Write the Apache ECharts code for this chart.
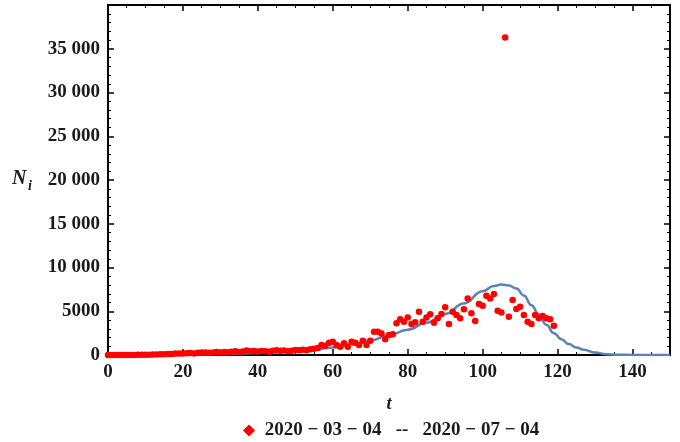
<!DOCTYPE html>
<html>
<head>
<meta charset="utf-8">
<script src="https://cdn.jsdelivr.net/npm/echarts@6/dist/echarts.min.js"></script>
<style>
html,body{margin:0;padding:0;background:#fff;}
#c{width:680px;height:442px;}
</style>
</head>
<body>
<div id="c"></div>
<script>
// Observed daily new cases (t = day index)
var days = [];
for (var d = 0; d <= 119; d++) days.push(d);
var cases = [
  1, 2, 3, 4, 6, 10, 8, 12, 20, 15,
  24, 30, 46, 60, 74, 80, 120, 105, 160, 175,
  180, 210, 220, 170, 250, 300, 290, 260, 300, 340,
  300, 350, 310, 380, 430, 330, 410, 520, 430, 470,
  400, 460, 420, 360, 480, 530, 500, 520, 440, 480,
  560, 530, 590, 540, 650, 720, 800, 1140, 1050, 1400,
  1520, 1140, 950, 1330, 950, 1520, 1400, 1140, 1630, 1140,
  1630, 2660, 2660, 2470, 1790, 2280, 2360, 3620, 4080, 3800,
  4300, 3540, 3730, 4950, 3800, 4300, 4650, 3690, 4190, 4700,
  5450, 3540, 4950, 4570, 4190, 5220, 6470, 4760, 3880, 5820,
  5630, 6770, 6470, 6970, 5060, 4870, 36280, 4370, 6280, 5250,
  5520, 4570, 3800, 3540, 4570, 4190, 4450, 4190, 4080, 3350
];
// Fitted model curve
var curveT = [0, 5, 10, 15, 20, 25, 30, 35, 40, 45, 50, 55, 60, 65, 70, 75, 80, 85, 90, 95, 100, 103, 105, 107, 109, 111, 113, 115, 117, 119, 121, 123, 125, 127, 130, 133, 136, 140, 145, 150];
var curveV = [0, 10, 20, 35, 55, 80, 120, 170, 240, 340, 470, 640, 850, 1200, 1650, 2250, 2900, 3700, 4700, 5900, 7300, 7900, 8050, 7950, 7600, 6800, 5700, 4650, 3450, 2500, 1800, 1250, 850, 600, 280, 100, 30, 5, 0, 0];
var xTicks = [0, 20, 40, 60, 80, 100, 120, 140];
var yTicks = [0, 5000, 10000, 15000, 20000, 25000, 30000, 35000];
var legendName = '2020 \u2212 03 \u2212 04   --   2020 \u2212 07 \u2212 04';

var scatterData = days.map(function (t, i) { return [t, cases[i]]; });
var lineData = curveT.map(function (t, i) { return [t, curveV[i]]; });

var font = '"Liberation Serif", "Times New Roman", Times, serif';
var txtColor = '#1a1a1a';
function yFmt(v) {
  if (yTicks.indexOf(v) < 0) return '';
  if (v >= 10000) {
    var s = String(v);
    return s.slice(0, s.length - 3) + ' ' + s.slice(s.length - 3);
  }
  return String(v);
}
function xFmt(v) { return xTicks.indexOf(v) < 0 ? '' : String(v); }

var axisLine = { show: true, onZero: false, lineStyle: { color: '#000', width: 2 } };
var tick = { show: true, inside: true, length: 6, lineStyle: { color: '#000', width: 1.5 } };
var minor = { show: true, length: 3, lineStyle: { color: '#000', width: 1 } };

var chart = echarts.init(document.getElementById('c'), null, { renderer: 'canvas' });
chart.setOption({
  animation: false,
  backgroundColor: '#fff',
  grid: { left: 108, right: 10, top: 5, bottom: 87, containLabel: false },
  legend: {
    data: [{ name: legendName, icon: 'diamond' }],
    left: 243, top: 421, padding: 0,
    itemWidth: 12, itemHeight: 12, itemGap: 8,
    formatter: function (n) { return ' ' + n; },
    textStyle: { fontFamily: font, fontWeight: 'bold', fontSize: 19, color: txtColor }
  },
  xAxis: [
    {
      type: 'value', min: 0, max: 150, interval: 20, position: 'bottom',
      name: 't', nameLocation: 'middle', nameGap: 40,
      nameTextStyle: { fontFamily: font, fontStyle: 'italic', fontWeight: 'bold', fontSize: 18, color: txtColor },
      axisLine: axisLine, axisTick: tick, minorTick: Object.assign({ splitNumber: 4 }, minor),
      splitLine: { show: false },
      axisLabel: { formatter: xFmt, margin: 8, fontFamily: font, fontWeight: 'bold', fontSize: 19, color: txtColor }
    },
    {
      type: 'value', min: 0, max: 150, interval: 20, position: 'top',
      axisLine: axisLine, axisTick: tick, minorTick: Object.assign({ splitNumber: 4 }, minor),
      splitLine: { show: false }, axisLabel: { show: false }
    }
  ],
  yAxis: [
    {
      type: 'value', min: 0, max: 40000, interval: 5000, position: 'left',
      axisLine: axisLine, axisTick: tick, minorTick: Object.assign({ splitNumber: 5 }, minor),
      splitLine: { show: false },
      axisLabel: { formatter: yFmt, margin: 8, fontFamily: font, fontWeight: 'bold', fontSize: 19, color: txtColor }
    },
    {
      type: 'value', min: 0, max: 40000, interval: 5000, position: 'right',
      axisLine: axisLine, axisTick: tick, minorTick: Object.assign({ splitNumber: 5 }, minor),
      splitLine: { show: false }, axisLabel: { show: false }
    }
  ],
  graphic: [
    { type: 'text', left: 12, top: 169, style: { text: 'N', fontFamily: font, fontStyle: 'italic', fontWeight: 'bold', fontSize: 20, fill: txtColor } },
    { type: 'text', left: 28, top: 179, style: { text: 'i', fontFamily: font, fontStyle: 'italic', fontWeight: 'bold', fontSize: 14, fill: txtColor } }
  ],
  series: [
    {
      type: 'line', name: 'model', data: lineData, smooth: true, smoothMonotone: 'x', showSymbol: false,
      xAxisIndex: 0, yAxisIndex: 0,
      lineStyle: { color: '#5E81B5', width: 2.5 }, itemStyle: { color: '#5E81B5' }, z: 2
    },
    {
      type: 'scatter', name: legendName, data: scatterData, symbol: 'circle', symbolSize: 6.5,
      xAxisIndex: 0, yAxisIndex: 0,
      itemStyle: { color: '#ff0000', opacity: 1 }, z: 3
    }
  ]
});
</script>
</body>
</html>
